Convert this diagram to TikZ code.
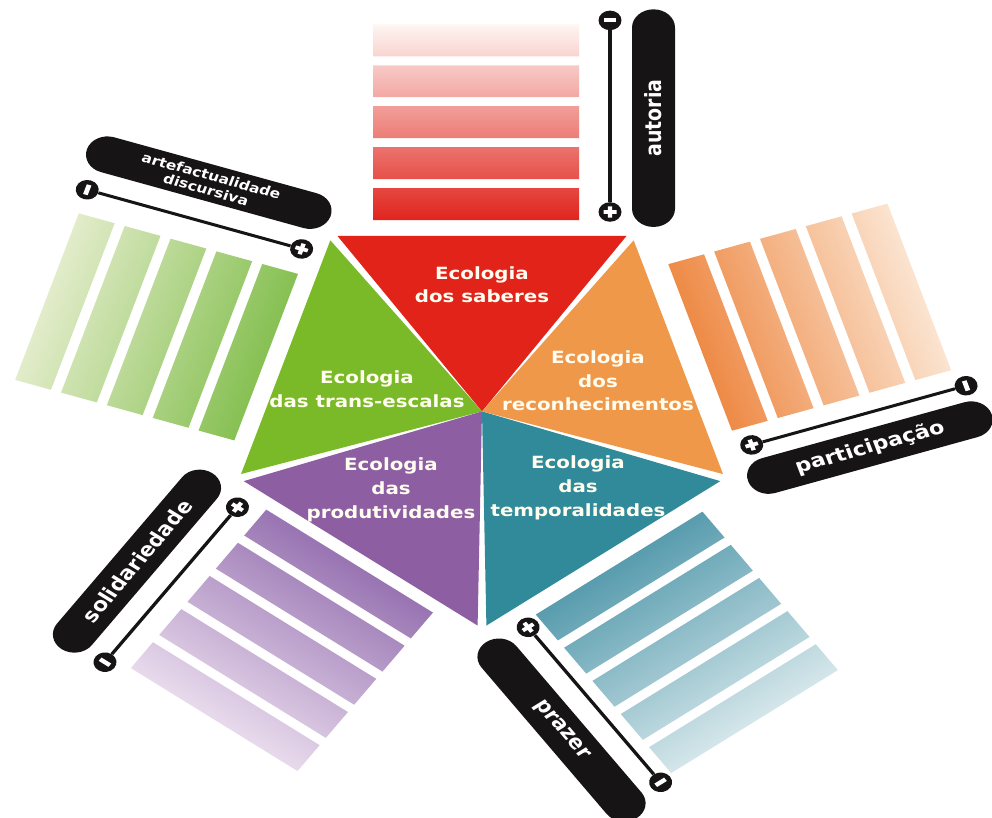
\documentclass[tikz,border=0pt]{standalone}
\usepackage{fontspec}
\setmainfont{DejaVu Sans}
\newfontfamily\ecofont{DejaVu Sans}

% triangle colours
\definecolor{sabRed}{RGB}{226,35,26}
\definecolor{recOrange}{RGB}{240,152,74}
\definecolor{temTeal}{RGB}{48,138,154}
\definecolor{proPurple}{RGB}{142,94,162}
\definecolor{traGreen}{RGB}{122,186,40}
% bar colours: near the pentagon / far from it
\definecolor{sabNear}{RGB}{224,36,28}
\definecolor{sabFar}{RGB}{254,246,243}
\definecolor{recNear}{RGB}{238,138,70}
\definecolor{recFar}{RGB}{251,228,208}
\definecolor{temNear}{RGB}{88,156,174}
\definecolor{temFar}{RGB}{212,230,234}
\definecolor{proNear}{RGB}{152,116,178}
\definecolor{proFar}{RGB}{232,218,236}
\definecolor{traNear}{RGB}{134,192,82}
\definecolor{traFar}{RGB}{226,236,202}
\definecolor{inkBlack}{RGB}{22,20,20}
\definecolor{labelWhite}{RGB}{255,252,240}

\tikzset{
  sector/.style={transform canvas={shift={(482,406.6)},yscale=0.85,rotate=#1}},
  nudge/.style={transform canvas={shift={#1}}},
  scaledot/.style={circle, fill=inkBlack, minimum size=23, inner sep=0},
  scaleline/.style={line width=3.5, inkBlack},
  tag/.style={fill=inkBlack, text=white, rounded corners=21.5,
    minimum width=256, minimum height=43, inner sep=0, align=center,
    font=\ecofont\bfseries\fontsize{22.3}{24}\selectfont},
  ecolabel/.style={text=labelWhite, align=center, inner sep=0,
    font=\ecofont\bfseries\fontsize{19.8}{28}\selectfont},
}

% five bars with a gradient, and the minus/plus scale beside them
% #1 near colour, #2 far colour, #3 name, #4 x of the scale, #5 shift of the scale along the bars' stack
\newcommand\ecobars[5]{%
  \begin{scope}
    \clip (-109,225) rectangle ++(206,37.6)
          (-109,273.2) rectangle ++(206,37.6)
          (-109,321.4) rectangle ++(206,37.6)
          (-109,369.6) rectangle ++(206,37.6)
          (-109,417.8) rectangle ++(206,37.6);
    \shade[bottom color=#1, top color=#2] (-110,224) rectangle (98,456);
  \end{scope}
  \node[scaledot] (#3-pos) at (#4,234.6+#5) {};
  \node[scaledot] (#3-neg) at (#4,460+#5) {};
  \draw[scaleline] (#3-pos) -- (#3-neg);
  \fill[white] (#3-neg.center) +(-6,-2.4) rectangle +(6,2.4);
  \fill[white] (#3-pos.center) +(-6.5,-2.2) rectangle +(6.5,2.2)
                               +(-2.2,-6.5) rectangle +(2.2,6.5);
}

\begin{document}
\begin{tikzpicture}[x=1pt,y=1pt]
\useasboundingbox (0,0) rectangle (992,818);
\fill[white] (0,0) rectangle (992,818);

% the pentagon of five triangles
\begin{scope}[sector=0]
  \fill[sabRed]    (0,0) -- (55:252)  -- (125:252) -- cycle;
  \fill[traGreen]  (0,0) -- (127:252) -- (197:252) -- cycle;
  \fill[proPurple] (0,0) -- (199:252) -- (269:252) -- cycle;
  \fill[temTeal]   (0,0) -- (271:252) -- (341:252) -- cycle;
  \fill[recOrange] (0,0) -- (343:252) -- (413:252) -- cycle;
  \node[ecolabel] (lab-sab) at (0,149) {Ecologia\\dos saberes};
  \node[ecolabel] (lab-tra) at (-115,26) {Ecologia\\das trans-escalas};
  \node[ecolabel] (lab-rec) at (116,36) {Ecologia\\dos\\reconhecimentos};
  \node[ecolabel] (lab-pro) at (-91,-92) {Ecologia\\das\\produtividades};
  \node[ecolabel] (lab-tem) at (96,-90) {Ecologia\\das\\temporalidades};
\end{scope}

% autoria
\begin{scope}[sector=0]
  \ecobars{sabNear}{sabFar}{aut}{128}{0}
  \node[tag, rotate=90] (tag-aut) at (171.5,345) {autoria};
\end{scope}

% artefactualidade discursiva
\begin{scope}[sector=72]
  \ecobars{traNear}{traFar}{art}{126}{-4}
  \node[tag, rotate=270, font=\ecofont\bfseries\fontsize{15.5}{17}\selectfont]
    (tag-art) at (171.5,343) {artefactualidade\\discursiva};
\end{scope}

% solidariedade
\begin{scope}[nudge={(-5,8)}]
\begin{scope}[sector=144]
  \ecobars{proNear}{proFar}{sol}{122}{5}
  \node[tag, rotate=270] (tag-sol) at (166,350) {solidariedade};
\end{scope}
\end{scope}

% prazer
\begin{scope}[sector=-144]
  \ecobars{temNear}{temFar}{pra}{112}{-2}
  \node[tag, rotate=90] (tag-pra) at (156,350) {prazer};
\end{scope}

% participação
\begin{scope}[nudge={(6,0)}]
\begin{scope}[sector=-72]
  \ecobars{recNear}{recFar}{par}{119}{4}
  \node[tag, rotate=90] (tag-par) at (158.5,350) {participação};
\end{scope}
\end{scope}
\end{tikzpicture}
\end{document}
